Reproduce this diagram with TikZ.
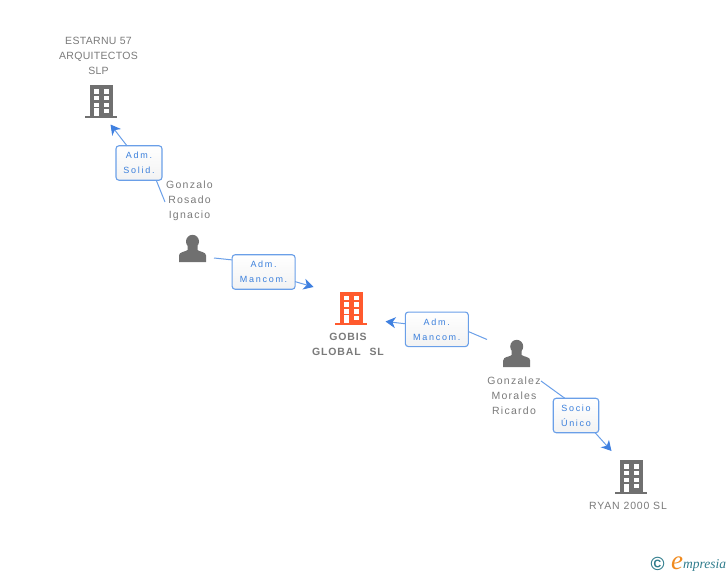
\documentclass[tikz,border=0pt]{standalone}
\usepackage{fontspec}
\setmainfont{Liberation Sans}
\newfontfamily\spacedfont[LetterSpace=8]{Liberation Sans}
\newfontfamily\capsfont[LetterSpace=3]{Liberation Sans}
\newfontfamily\widefont[LetterSpace=12]{Liberation Sans}
\newfontfamily\rolefont[LetterSpace=19]{Liberation Sans}
\newfontfamily\logofont{Liberation Serif}
\definecolor{icongray}{HTML}{707070}
\definecolor{iconred}{HTML}{FF5A2E}
\definecolor{textgray}{HTML}{7A7A7A}
\definecolor{linkblue}{HTML}{6A9FE8}
\definecolor{tipblue}{HTML}{3F80E0}
\definecolor{boxtext}{HTML}{3A7FDC}
\definecolor{logoteal}{HTML}{2F7C8C}
\definecolor{logoorange}{HTML}{F08A1E}
\usetikzlibrary{arrows.meta}
\tikzset{
	building/.pic={
		\fill[pic actions] (-11.3,-16) rectangle (11.4,16);
		\fill[pic actions] (-16,15.5) rectangle (16,17.5);
		\foreach \y in {-12,-5.3,1.7}{
			\fill[white] (-7.3,\y) rectangle (-2.1,\y+4.6);
			\fill[white] (2.4,\y) rectangle (7.6,\y+4.6);
		}
		\fill[white] (2.4,8) rectangle (7.6,12.4);
		\fill[white] (-7.3,7.5) rectangle (-2.6,15.5);
	},
	person/.pic={
		\fill[pic actions] (0,-7) ellipse (6.5 and 6.7);
		\fill[pic actions] (-5,-3) -- (5,-3) -- (5,1.5) .. controls (7,3.5) and (13.5,3) .. (13.5,7) -- (13.5,13.5) -- (-13.5,13.5) -- (-13.5,7) .. controls (-13.5,3) and (-7,3.5) .. (-5,1.5) -- cycle;
	}
}
\begin{document}
\begin{tikzpicture}
	[x=1pt,y=-1pt,
	every node/.style={inner sep=0pt,outer sep=0pt},
	namelabel/.style={align=center,text=textgray,font=\fontsize{10.5}{15}\widefont},
	capslabel/.style={namelabel,font=\fontsize{10.5}{15}\capsfont},
	boldlabel/.style={namelabel,font=\fontsize{10.5}{15}\spacedfont\bfseries},
	rolebox/.style={draw=linkblue,line width=1.1pt,rounded corners=3pt,top color=white,bottom color=black!5,minimum height=34.5pt,align=center,text=boxtext,font=\fontsize{9}{15}\rolefont},
	link/.style={draw=linkblue,line width=1pt},
	linkarrow/.style={link,-{Stealth[length=10pt,width=11pt,inset=3pt,color=tipblue]}}]
	\useasboundingbox (0,0) rectangle (728,575);

	\pic[fill=icongray] at (101.3,101) {building};
	\pic[fill=iconred] at (351.3,307.5) {building};
	\pic[fill=icongray] at (631.3,476) {building};
	\pic[fill=icongray] at (192.5,248.5) {person};
	\pic[fill=icongray] at (516.7,353.5) {person};

	\node[capslabel] (estarnu) at (98.5,56) {ESTARNU 57\\ARQUITECTOS\\SLP};
	\node[namelabel] (gonzalo) at (189.5,201) {Gonzalo\\Rosado\\Ignacio};
	\node[boldlabel] (gobis) at (348,344) {GOBIS\\GLOBAL\hspace{5pt} SL};
	\node[namelabel] (gonzalez) at (514,396) {Gonzalez\\Morales\\Ricardo};
	\node[namelabel,font=\fontsize{10.5}{15}\spacedfont] (ryan) at (628,506) {RYAN 2000 SL};

	\coordinate (solidstart) at (165,202);
	\coordinate (solidend) at (110.5,124.5);
	\coordinate (mancomastart) at (214,258);
	\coordinate (mancomaend) at (313.5,287);
	\coordinate (mancombstart) at (487,339.5);
	\coordinate (mancombend) at (385.5,321.5);
	\coordinate (sociostart) at (541,381);
	\coordinate (socioend) at (611.5,451);

	\node[rolebox,minimum width=46pt] (boxsolid) at (139,163) {Adm.\\Solid.};
	\node[rolebox,minimum width=63pt] (boxmancoma) at (263.6,272) {Adm.\\Mancom.};
	\node[rolebox,minimum width=63pt] (boxmancomb) at (436.8,329.3) {Adm.\\Mancom.};
	\node[rolebox,minimum width=45.5pt] (boxsocio) at (576,415.5) {Socio\\Único};

	\draw[link] (solidstart) -- (boxsolid.-45);
	\draw[linkarrow] (boxsolid.125) -- (solidend);
	\draw[link] (mancomastart) -- (boxmancoma.159);
	\draw[linkarrow] (boxmancoma.-17) -- (mancomaend);
	\draw[link] (mancombstart) -- (boxmancomb.-4);
	\draw[linkarrow] (boxmancomb.170) -- (mancombend);
	\draw[link] (sociostart) -- (boxsocio.123);
	\draw[linkarrow] (boxsocio.-42) -- (socioend);

	\node[text=logoteal,font=\fontsize{19}{19}\bfseries] (copyright) at (657.7,564) {©};
	\node[anchor=base west,text=logoorange,font=\fontsize{27}{27}\logofont\itshape] (logoe) at (671,569) {e};
	\node[anchor=base west,text=logoteal,font=\fontsize{13.5}{13.5}\logofont\itshape] (logoname) at (683,568) {mpresia};
\end{tikzpicture}
\end{document}
